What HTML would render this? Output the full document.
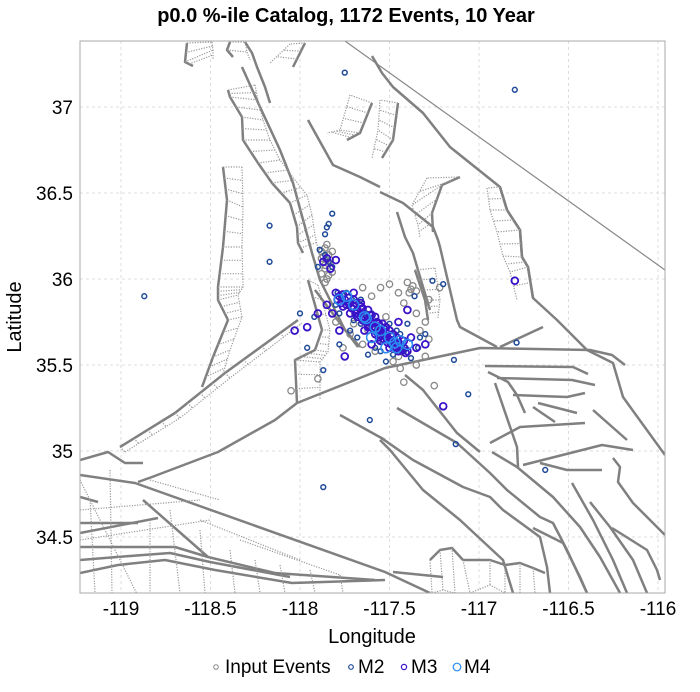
<!DOCTYPE html>
<html><head><meta charset="utf-8"><style>
body{margin:0;background:#fff;width:700px;height:687px;overflow:hidden}
svg text{font-family:"Liberation Sans",sans-serif;fill:#000}
</style></head><body>
<svg id="chart" width="700" height="687" viewBox="0 0 700 687">
<text x="346" y="22" text-anchor="middle" font-size="20" font-weight="bold">p0.0 %-ile Catalog, 1172 Events, 10 Year</text>
<defs><clipPath id="clip"><rect x="80" y="41" width="585" height="552"/></clipPath></defs>
<g id="grid"></g>
<g id="faults" clip-path="url(#clip)"></g>
<g id="events" clip-path="url(#clip)"></g>
<rect x="80" y="41" width="585" height="552" fill="none" stroke="#aaa" stroke-width="1"/>
<g id="ticks"></g>
<text x="372" y="643" text-anchor="middle" font-size="20">Longitude</text>
<text transform="translate(21,317) rotate(-90)" text-anchor="middle" font-size="20">Latitude</text>
<g>
<g><circle cx="216" cy="667" r="2.3" fill="none" stroke="#888" stroke-width="1"/><text x="225" y="673" font-size="19">Input Events</text></g>
<g><circle cx="351" cy="667" r="2.3" fill="none" stroke="#1f4a9a" stroke-width="1.2"/><text x="358" y="673" font-size="19">M2</text></g>
<g><circle cx="404" cy="667" r="2.6" fill="none" stroke="#3a12c8" stroke-width="1.2"/><text x="411" y="673" font-size="19">M3</text></g>
<g><circle cx="457" cy="667" r="3.8" fill="none" stroke="#2a8cf0" stroke-width="1.2"/><text x="464" y="673" font-size="19">M4</text></g>
</g>
</svg>
<script>
const xTicks=[-119,-118.5,-118,-117.5,-117,-116.5,-116];
const yTicks=[34.5,35,35.5,36,36.5,37];
const inputLon=[-117.86,-117.88,-117.84,-117.86,-117.82,-117.55,-117.50,-117.45,-117.40,-117.38,-117.42,-117.35,-117.30,-117.28,-117.30,-117.35,-117.44,-117.48,-117.58,-117.65,-117.72,-117.80,-117.60,-117.65,-117.25,-117.42,-117.90,-118.05,-117.22,-117.28,-117.62,-117.52,-117.70,-117.45,-117.33,-117.88,-117.76,-117.85,-117.87,-117.83,-117.86,-117.84,-117.88,-117.82,-117.85,-117.86,-117.84,-117.37,-117.35,-117.39];
const inputLat=[36.18,36.16,36.14,36.08,36.04,35.95,35.97,35.92,35.98,35.94,35.86,35.80,35.75,35.65,35.55,35.50,35.48,35.52,35.58,35.62,35.68,35.75,35.90,35.95,35.38,35.40,35.42,35.35,35.95,35.88,35.70,35.78,35.74,35.55,35.70,36.12,35.60,36.20,36.13,36.11,36.06,36.09,36.03,36.16,36.00,35.98,36.02,35.96,35.93,35.92];
const m2Lon=[-117.75,-116.80,-118.17,-118.17,-118.87,-117.87,-117.87,-116.63,-117.61,-117.13,-117.14,-116.79,-117.06,-117.85,-117.82,-117.89,-117.80,-117.78,-117.74,-117.70,-117.66,-117.60,-117.56,-117.50,-117.46,-117.42,-117.38,-117.34,-117.30,-117.52,-117.58,-117.68,-117.72,-117.78,-117.92,-118.00,-117.96,-117.66,-117.40,-117.36,-117.26,-117.20,-117.33,-117.62,-117.55,-117.48,-117.44,-117.86,-117.84,-117.90,-117.77,-117.73,-117.69,-117.65,-117.61,-117.57,-117.53,-117.49,-117.45,-117.41,-117.79,-117.71,-117.63,-117.55,-117.47,-117.84,-117.82,-117.86];
const m2Lat=[37.20,37.10,36.31,36.10,35.90,35.47,34.79,34.89,35.18,35.04,35.53,35.63,35.33,36.30,36.38,36.17,35.85,35.80,35.92,35.76,35.74,35.80,35.64,35.74,35.70,35.58,35.54,35.60,35.68,35.52,35.60,35.66,35.70,35.62,35.78,35.80,35.60,35.88,35.74,35.90,35.99,35.97,35.66,35.56,35.58,35.56,35.68,36.26,36.32,36.07,35.89,35.85,35.81,35.78,35.74,35.71,35.67,35.64,35.61,35.60,35.92,35.88,35.80,35.73,35.65,36.10,36.07,36.14];
const m3Lon=[-117.80,-117.78,-117.75,-117.72,-117.70,-117.68,-117.66,-117.64,-117.62,-117.60,-117.58,-117.56,-117.54,-117.52,-117.50,-117.48,-117.46,-117.44,-117.42,-117.40,-117.76,-117.72,-117.68,-117.62,-117.58,-117.55,-117.50,-117.60,-117.70,-117.66,-117.62,-117.58,-117.54,-117.50,-117.46,-117.42,-117.85,-117.82,-117.78,-117.35,-117.38,-117.30,-117.45,-117.40,-117.85,-117.87,-117.80,-117.83,-117.75,-117.96,-118.03,-117.90,-116.80,-117.20,-117.64,-117.56,-117.52,-117.48,-117.79,-117.77,-117.74,-117.71,-117.69,-117.67,-117.65,-117.63,-117.61,-117.59,-117.57,-117.55,-117.53,-117.51,-117.49,-117.47,-117.45,-117.43,-117.41,-117.73,-117.69,-117.65,-117.61,-117.57,-117.53,-117.49,-117.45,-117.76,-117.70,-117.66,-117.60,-117.56,-117.52];
const m3Lat=[35.92,35.90,35.88,35.86,35.84,35.82,35.80,35.78,35.76,35.74,35.72,35.70,35.68,35.66,35.64,35.62,35.60,35.62,35.60,35.58,35.84,35.80,35.78,35.72,35.68,35.64,35.60,35.62,35.92,35.86,35.82,35.78,35.74,35.70,35.66,35.64,35.85,35.80,35.70,35.60,35.66,35.62,35.75,35.82,36.12,36.10,36.11,36.06,35.55,35.72,35.70,35.80,35.99,35.26,35.70,35.66,35.72,35.68,35.88,35.86,35.85,35.83,35.80,35.79,35.76,35.75,35.73,35.71,35.69,35.67,35.65,35.63,35.62,35.60,35.58,35.59,35.57,35.89,35.86,35.83,35.79,35.75,35.71,35.67,35.63,35.91,35.88,35.84,35.79,35.74,35.69];
const m4Lon=[-117.78,-117.70,-117.64,-117.63,-117.55,-117.50,-117.47,-117.44,-117.40,-117.52,-117.60,-117.74,-117.58,-117.46];
const m4Lat=[35.88,35.85,35.78,35.77,35.70,35.66,35.63,35.64,35.62,35.60,35.66,35.90,35.72,35.60];
const NS='http://www.w3.org/2000/svg';
function X(lon){return 121+(lon+119)*179;}
function Y(lat){return 107+(37-lat)*172;}
function mk(tag,attrs,parent){const e=document.createElementNS(NS,tag);for(const k in attrs)e.setAttribute(k,attrs[k]);parent.appendChild(e);return e;}
const grid=document.getElementById('grid'),ticks=document.getElementById('ticks');
xTicks.forEach(v=>{
 const l=mk('line',{x1:X(v),x2:X(v),y1:41,y2:593,stroke:'#ddd','stroke-dasharray':'3,3'},grid);
 
 
 const t=mk('text',{x:X(v),y:615,'text-anchor':'middle','font-size':'19'},ticks);t.textContent=String(v);
 
 
});
yTicks.forEach(v=>{
 const l=mk('line',{x1:80,x2:665,y1:Y(v),y2:Y(v),stroke:'#ddd','stroke-dasharray':'3,3'},grid);
 
 
 const t=mk('text',{x:73,y:Y(v)+7,'text-anchor':'end','font-size':'19'},ticks);t.textContent=String(v);
 
 
});
const F=document.getElementById('faults');
function pl(pts,w,col,dash){const a={points:pts.map(p=>p.join(',')).join(' '),fill:'none',stroke:col||'#808080','stroke-width':w||2.5,'stroke-linejoin':'round'};if(dash)a['stroke-dasharray']=dash;const e=mk('polyline',a,F);
 
 }
function strip(A,B,n){pl(A,2.5);pl(B,1.2,'#999','1.2,1.4');
 for(let i=0;i<A.length-1;i++){for(let k=0;k<n;k++){const t=k/n;
  const a=[A[i][0]+(A[i+1][0]-A[i][0])*t,A[i][1]+(A[i+1][1]-A[i][1])*t];
  const b=[B[i][0]+(B[i+1][0]-B[i][0])*t,B[i][1]+(B[i+1][1]-B[i][1])*t];
  pl([a,b],1.2,'#999','1.2,1.4');}}}
pl([[345,41],[665,270]],1.2,'#888');
pl([[372,56],[382,73],[393,87],[423,113],[450,147],[500,187],[507,210],[520,230],[522,257],[528,267],[533,298],[557,320],[587,350],[613,363],[623,397],[665,455]]);
strip([[500,187],[507,210],[520,230],[522,257],[528,267],[533,298]],[[487,188],[490,210],[497,232],[503,256],[510,272],[517,300]],2);
pl([[380,192],[403,203],[433,227],[438,240],[440,247],[450,290],[457,320],[460,327],[497,347]]);
pl([[397,212],[405,237],[413,253],[423,287],[430,310]]);
strip([[460,177],[442,185],[432,213],[433,232]],[[427,178],[412,205],[418,225],[420,238]],2);
strip([[398,103],[393,140],[382,158]],[[380,100],[378,130],[372,158]],3);
pl([[297,403],[385,368],[480,348],[590,350],[612,355],[625,365]]);
pl([[500,347],[543,327]]);
pl([[485,366],[573,367],[588,374]]);pl([[488,372],[508,382],[517,395],[525,413]]);
pl([[497,378],[572,380],[595,385]]);pl([[513,395],[567,397],[585,393]]);
pl([[538,403],[577,413]]);pl([[533,407],[555,422]]);
pl([[495,383],[517,447],[518,467]]);pl([[490,443],[520,427],[585,423]]);
pl([[523,465],[602,445],[633,450]]);pl([[540,463],[567,470],[602,470]]);
pl([[593,410],[627,440]]);
pl([[613,458],[620,467],[618,482],[633,503],[665,535]]);
pl([[572,483],[593,520],[613,560],[627,593]]);pl([[590,502],[610,527],[633,560],[647,593]]);
pl([[612,528],[647,550],[657,570],[660,580]]);pl([[533,528],[563,543],[580,577],[587,593]]);
pl([[405,375],[423,390],[457,433],[480,452]]);
pl([[397,408],[457,443],[490,473],[507,490],[540,517],[553,523],[567,550],[587,593]]);
pl([[492,452],[517,467],[553,497],[580,527],[600,557],[620,593]]);
pl([[380,437],[413,460],[463,487],[490,497],[503,510],[540,537],[547,567],[550,593]]);
pl([[380,440],[390,450],[423,490],[460,520],[503,560],[513,593]]);
strip([[430,560],[440,550],[452,548],[463,560],[490,560],[505,565],[520,563],[533,568],[545,573]],[[432,593],[443,590],[455,593],[470,593],[490,585],[505,593],[520,593],[535,593],[540,593]],1);
pl([[393,572],[443,577]]);
pl([[80,475],[135,483],[385,572],[430,593]]);
pl([[138,482],[152,477],[218,452],[275,420],[297,403]]);
strip([[120,447],[175,413],[225,373],[298,320]],[[125,452],[180,418],[230,378],[302,323]],4);
strip([[223,167],[227,200],[223,247],[218,287],[218,300],[228,320],[213,357],[202,387]],[[242,167],[243,207],[242,247],[243,287],[238,295],[242,317],[230,350],[222,377]],3);
pl([[245,42],[252,53],[257,67],[265,87],[270,103]]);
pl([[242,67],[260,107],[280,150],[293,183],[305,227],[312,253],[320,280],[330,300],[345,330],[360,347]]);
strip([[228,90],[230,97],[242,117],[243,140],[258,163],[272,183],[290,203],[297,227],[298,243],[303,253]],[[255,85],[258,100],[263,120],[270,140],[280,160],[295,180],[307,195],[312,215],[315,235],[318,250]],2);
strip([[187,43],[185,62],[193,66]],[[212,42],[213,50],[213,60]],2);
strip([[230,42],[227,50],[233,57]],[[245,42],[247,52],[250,60]],1);
strip([[305,43],[293,67]],[[290,44],[270,63]],3);
pl([[308,120],[333,165],[360,177],[380,187]]);
strip([[372,103],[360,133],[347,140]],[[350,95],[340,130],[327,133]],3);
strip([[308,280],[322,330],[315,350],[295,360],[297,403]],[[318,285],[330,330],[328,352],[320,362],[320,400]],3);
pl([[315,290],[358,347]]);pl([[340,415],[385,440]]);
strip([[415,270],[425,300],[428,320]],[[435,268],[440,300],[438,318]],3);
pl([[80,460],[108,452],[125,463],[143,463]]);
pl([[80,497],[98,502]]);pl([[80,523],[138,523]]);pl([[80,533],[158,518]]);
pl([[80,547],[132,547],[175,547],[208,557],[275,573],[375,580]]);
pl([[80,573],[118,565],[165,560],[215,570],[292,583],[385,580]]);
pl([[80,560],[130,556],[170,553],[210,562],[290,577]]);
pl([[143,500],[208,557]]);
[[80,480,140,600],[90,500,95,593],[110,470,112,593],[150,520,150,593],[170,510,180,593],[200,530,205,593],[230,550,235,593],[255,560,260,593],[280,565,285,593],[310,570,315,593],[340,575,343,593],[80,510,200,500],[80,540,210,520],[150,480,220,500],[200,520,300,560],[240,540,340,575]].forEach(s=>pl([[s[0],s[1]],[s[2],s[3]]],1.2,'#999','1.2,1.4'));
const E=document.getElementById('events');
function dots(lons,lats,r,col,w,name){for(let i=0;i<lons.length;i++){const c=mk('circle',{cx:X(lons[i]),cy:Y(lats[i]),r:r,fill:'none',stroke:col,'stroke-width':w},E);
 
 }}
dots(inputLon,inputLat,3.2,'#888',1.3,'input-event');
dots(m2Lon,m2Lat,2.4,'#1f4a9a',1.5,'m2-event');
dots(m3Lon,m3Lat,3.4,'#3a12c8',1.8,'m3-event');
dots(m4Lon,m4Lat,5,'#2a8cf0',1.5,'m4-event');
</script>
</body></html>
